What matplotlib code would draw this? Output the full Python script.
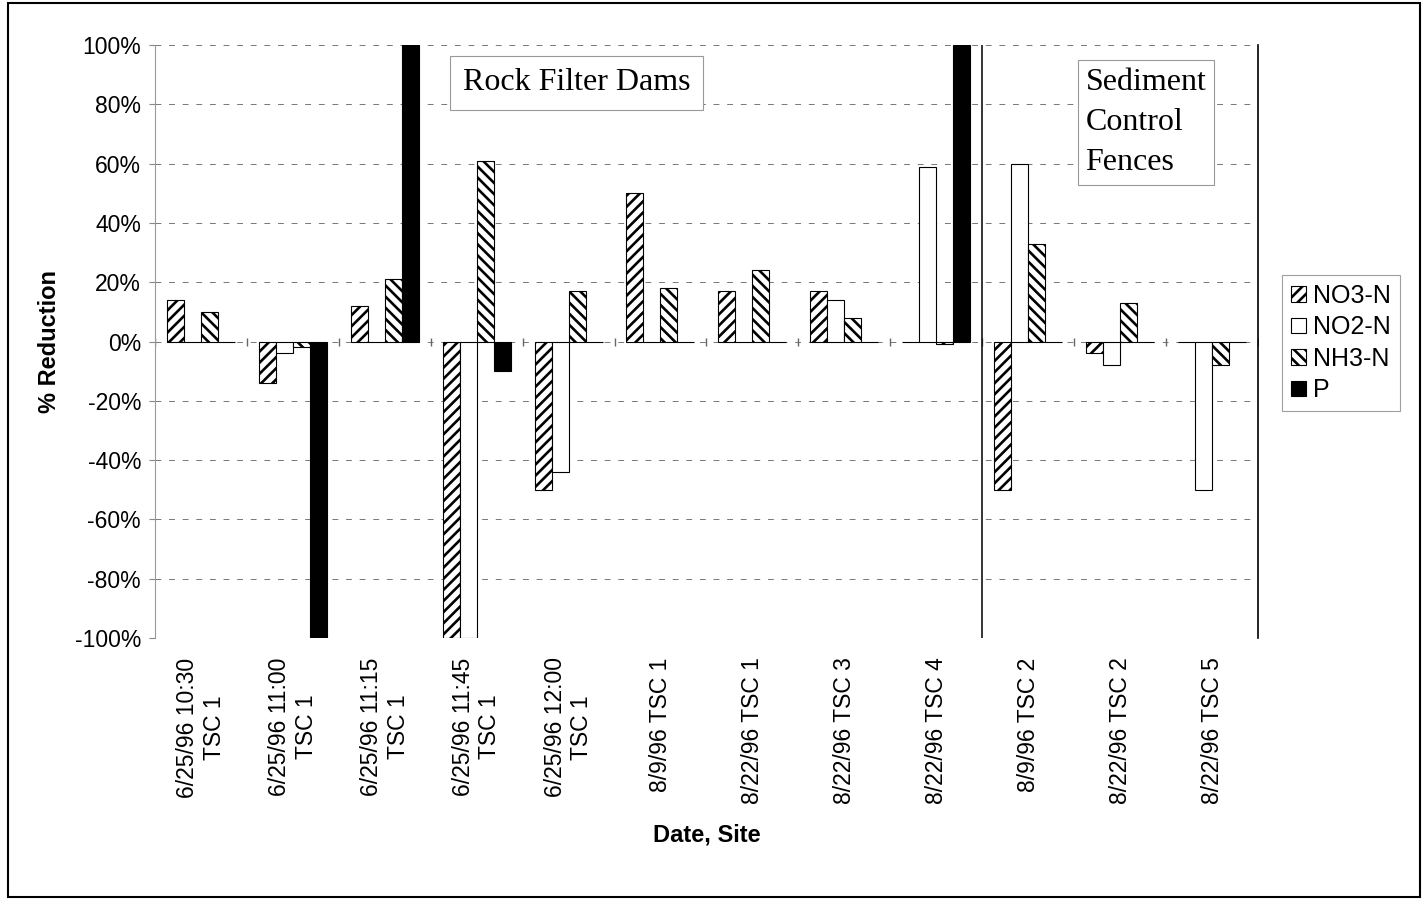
import numpy as np
import matplotlib
matplotlib.use("Agg")
import matplotlib.pyplot as plt
from matplotlib.patches import Patch, Rectangle
from matplotlib.ticker import PercentFormatter

# -------------------------------
# DATA
# -------------------------------
categories = [
    "6/25/96 10:30\nTSC 1",
    "6/25/96 11:00\nTSC 1",
    "6/25/96 11:15\nTSC 1",
    "6/25/96 11:45\nTSC 1",
    "6/25/96 12:00\nTSC 1",
    "8/9/96 TSC 1",
    "8/22/96 TSC 1",
    "8/22/96 TSC 3",
    "8/22/96 TSC 4",
    "8/9/96 TSC 2",
    "8/22/96 TSC 2",
    "8/22/96 TSC 5",
]
series_names = ["NO3-N", "NO2-N", "NH3-N", "P"]
no3 = [14, -14, 12, -100, -50, 50, 17, 17, 0, -50, -4, 0]
no2 = [0, -4, 0, -100, -44, 0, 0, 14, 59, 60, -8, -50]
nh3 = [10, -2, 21, 61, 17, 18, 24, 8, -1, 33, 13, -8]
p = [0, -100, 100, -10, 0, 0, 0, 0, 100, 0, 0, 0]

plt.rcParams["font.family"] = ["Liberation Sans", "DejaVu Sans"]
plt.rcParams["hatch.linewidth"] = 1.9
plt.rcParams["axes.unicode_minus"] = False

fig = plt.figure(figsize=(14.24, 9), dpi=100)
ax = fig.add_axes([0.1088, 0.2911, 0.7746, 0.6589])

x = np.arange(len(categories))
w = 0.185
styles = [
    dict(facecolor="white", hatch="///", edgecolor="black"),
    dict(facecolor="white", hatch=None, edgecolor="black"),
    dict(facecolor="white", hatch="\\\\\\", edgecolor="black"),
    dict(facecolor="black", hatch=None, edgecolor="black"),
]
for i, vals in enumerate([no3, no2, nh3, p]):
    ax.bar(x + (i - 1.5) * w, vals, w, linewidth=0.8, zorder=3,
           label=series_names[i], **styles[i])

# -------------------------------
# AXES
# -------------------------------
ax.set_xlim(-0.5, len(categories) - 0.5)
ax.set_ylim(-100, 100)
ax.set_yticks(np.arange(-100, 101, 20))
ax.yaxis.set_major_formatter(PercentFormatter(decimals=0))
ax.tick_params(axis="y", labelsize=16.5, length=4, color="#888888", pad=6)
ax.set_xticks(x)
ax.set_xticklabels(categories, rotation=90, fontsize=16.5,
                   multialignment="center", va="top", ha="center")
ax.tick_params(axis="x", length=0, pad=14)
ax.grid(axis="y", color="#777777", linestyle=(0, (6, 8)), linewidth=0.7, zorder=0)

for s in ["top", "bottom"]:
    ax.spines[s].set_visible(False)
ax.spines["left"].set_color("#999999")
ax.spines["right"].set_color("black")
ax.spines["right"].set_linewidth(1.2)

# category axis ticks along 0%
ax.plot(np.arange(len(categories) + 1) - 0.5, np.zeros(len(categories) + 1),
        "|", color="#666666", markersize=6, zorder=2)
ax.axvline(8.5, color="black", linewidth=1.1, zorder=4)

ax.set_ylabel("% Reduction", fontsize=17, fontweight="bold", labelpad=10)
ax.set_xlabel("Date, Site", fontsize=17, fontweight="bold", labelpad=14)

# -------------------------------
# ANNOTATIONS
# -------------------------------
ax.text(0.3826, 0.936, "Rock Filter Dams", transform=ax.transAxes,
        family="Liberation Serif", fontsize=23, ha="center", va="center",
        zorder=5, bbox=dict(facecolor="white", edgecolor="#999999",
                            linewidth=0.8, boxstyle="square,pad=0.4"))
ax.text(0.8985, 0.8685, "Sediment\nControl\nFences", transform=ax.transAxes,
        family="Liberation Serif", fontsize=23, ha="center", va="center",
        multialignment="left", linespacing=1.5, zorder=5,
        bbox=dict(facecolor="white", edgecolor="#999999",
                  linewidth=0.8, boxstyle="square,pad=0.25"))

handles = [Patch(label=series_names[i], linewidth=0.8, **styles[i]) for i in range(4)]
leg = ax.legend(handles=handles, loc="upper left", bbox_to_anchor=(1.022, 0.612),
                fontsize=18, frameon=True, fancybox=False, handlelength=0.6,
                handleheight=0.6, handletextpad=0.3, labelspacing=0.3,
                borderpad=0.35, borderaxespad=0)
leg.get_frame().set_edgecolor("#888888")
leg.get_frame().set_linewidth(0.8)

# chart border
fig.patches.append(Rectangle((8 / 1424, 3 / 900), 1412 / 1424, 894 / 900,
                             transform=fig.transFigure, fill=False,
                             edgecolor="black", linewidth=1.5))

fig.savefig("out.png", dpi=100)
